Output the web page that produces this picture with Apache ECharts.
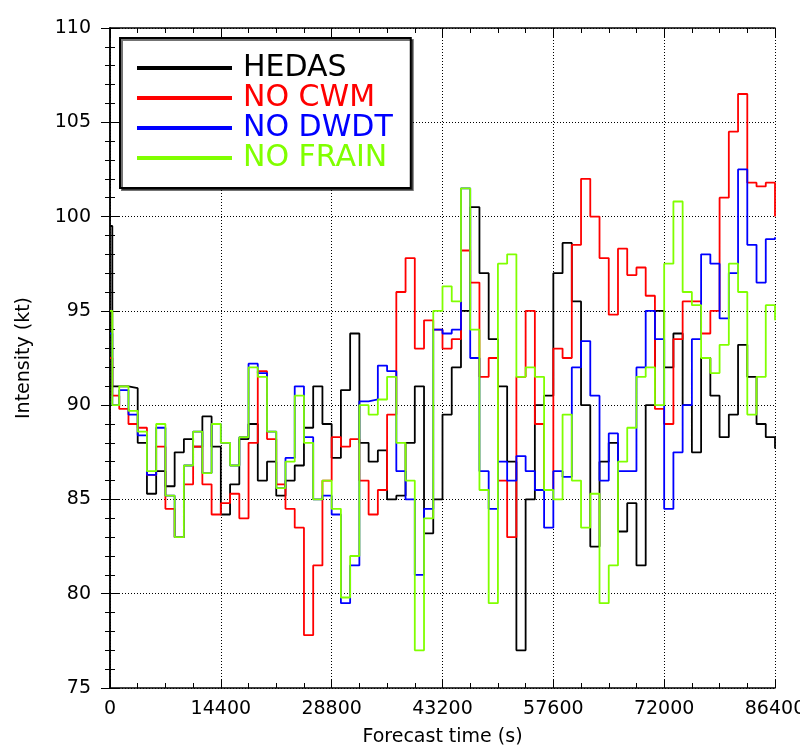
<!DOCTYPE html>
<html>
<head>
<meta charset="utf-8">
<script src="https://cdn.jsdelivr.net/npm/echarts/dist/echarts.min.js"></script>
<style>
  html, body { margin: 0; padding: 0; background: #fff; }
  #main { width: 800px; height: 753px; }
</style>
</head>
<body>
<div id="main"></div>
<script>
// forecast time (s) of every sample, shared by all runs
let times = [0, 300, 1200, 2400, 3600, 4800, 6000, 7200, 8400, 9600, 10800, 12000, 13200, 14400,
    15600, 16800, 18000, 19200, 20400, 21600, 22800, 24000, 25200, 26400, 27600, 28800,
    30000, 31200, 32400, 33600, 34800, 36000, 37200, 38400, 39600, 40800, 42000, 43200,
    44400, 45600, 46800, 48000, 49200, 50400, 51600, 52800, 54000, 55200, 56400, 57600,
    58800, 60000, 61200, 62400, 63600, 64800, 66000, 67200, 68400, 69600, 70800, 72000,
    73200, 74400, 75600, 76800, 78000, 79200, 80400, 81600, 82800, 84000, 85200, 86400];

// intensity (kt) of each run
let hedas = [99.5, 91.0, 91.0, 90.9, 88.0, 85.3, 86.5, 85.7, 87.5, 88.2, 87.8, 89.4, 87.8, 84.2,
    85.8, 88.2, 89.0, 86.0, 87.0, 85.2, 86.0, 86.8, 88.8, 91.0, 89.0, 87.2,
    90.8, 93.8, 88.0, 87.0, 87.6, 85.0, 85.2, 88.0, 91.0, 83.2, 85.0, 89.5,
    92.0, 95.0, 100.5, 97.0, 93.5, 91.0, 87.0, 77.0, 85.0, 90.0, 90.5, 97.0,
    98.6, 95.5, 90.0, 82.5, 87.0, 88.0, 83.3, 84.8, 81.5, 90.0, 95.0, 92.0,
    93.8, 90.0, 87.5, 92.5, 90.5, 88.3, 89.5, 93.2, 91.5, 89.0, 88.3, 87.7];
let noCwm = [92.5, 90.5, 89.8, 89.0, 88.8, 86.3, 87.8, 84.5, 83.0, 85.8, 87.8, 85.8, 84.2, 84.8,
    85.3, 84.0, 88.0, 91.8, 88.2, 85.8, 84.5, 83.5, 77.8, 81.5, 86.0, 88.3,
    87.8, 88.2, 86.0, 84.2, 85.5, 89.5, 96.0, 97.8, 93.0, 94.5, 94.0, 93.0,
    93.5, 98.2, 96.5, 91.5, 92.5, 86.0, 83.0, 91.5, 95.0, 89.0, 85.5, 93.0,
    92.5, 98.5, 102.0, 100.0, 97.8, 94.8, 98.3, 96.9, 97.3, 95.8, 89.8, 89.0,
    93.5, 95.5, 95.5, 93.8, 95.0, 101.0, 104.5, 106.5, 101.8, 101.6, 101.8, 100.0];
let noDwdt = [93.8, 90.0, 90.8, 89.5, 88.4, 86.3, 88.8, 85.2, 83.0, 86.8, 88.6, 86.4, 89.0, 88.0,
    86.8, 88.3, 92.2, 91.7, 88.6, 85.6, 87.2, 91.0, 88.3, 85.0, 85.2, 84.2,
    79.5, 81.5, 90.2, 90.3, 92.1, 91.8, 86.5, 85.0, 81.0, 84.5, 94.0, 93.8,
    94.0, 101.5, 92.5, 86.5, 84.5, 87.0, 86.0, 87.3, 86.5, 85.5, 83.5, 86.5,
    86.2, 92.0, 93.4, 90.5, 86.0, 88.5, 86.5, 86.5, 92.0, 95.0, 93.5, 84.5,
    87.5, 90.0, 93.5, 98.0, 97.5, 94.6, 97.0, 102.5, 98.5, 96.5, 98.8, 98.9];
let noFrain = [95.0, 90.0, 91.0, 89.7, 88.6, 86.5, 89.0, 85.2, 83.0, 86.8, 88.6, 86.4, 89.0, 88.0,
    86.8, 88.3, 92.0, 91.5, 88.6, 85.6, 87.0, 90.5, 88.0, 85.0, 86.0, 84.5,
    79.8, 82.0, 90.0, 89.5, 90.3, 91.5, 88.0, 86.0, 77.0, 84.0, 95.0, 96.3,
    95.5, 101.5, 94.0, 85.5, 79.5, 97.5, 98.0, 91.5, 92.0, 91.5, 85.5, 85.0,
    89.5, 86.0, 83.5, 85.3, 79.5, 81.5, 87.0, 88.8, 91.5, 92.0, 90.0, 97.5,
    100.8, 96.0, 95.3, 92.5, 91.7, 93.2, 97.5, 96.0, 89.5, 91.5, 95.3, 94.5];

let runNames = ['HEDAS', 'NO CWM', 'NO DWDT', 'NO FRAIN'];
let runColors = ['#000000', '#ff0000', '#0000ff', '#80ff00'];
let runValues = [hedas, noCwm, noDwdt, noFrain];

const FONT = 'DejaVu Sans';

var myChart = echarts.init(document.getElementById('main'));

function pairs(values) {
    return times.map((t, i) => [t, values[i]]);
}

let frameAxis = {
    axisLine: { show: true, lineStyle: { color: '#000', width: 1.5 } },
    axisTick: { show: true, inside: true, length: 9, lineStyle: { color: '#000', width: 1 } },
    minorTick: { show: true, length: 5, lineStyle: { color: '#000', width: 1 } }
};

var option = {
    animation: false,
    backgroundColor: '#fff',
    grid: { left: 110, right: 25, top: 28, bottom: 65, containLabel: false, outerBoundsMode: 'none' },
    legend: {
        orient: 'vertical',
        left: 120,
        top: 38,
        padding: [15, 18, 15, 17],
        itemGap: 0,
        itemWidth: 95,
        itemHeight: 4,
        icon: 'rect',
        backgroundColor: '#fff',
        borderColor: '#000',
        borderWidth: 2,
        shadowColor: 'rgba(0,0,0,0.55)',
        shadowOffsetX: 2,
        shadowOffsetY: 2,
        textStyle: { fontFamily: FONT, fontSize: 30, lineHeight: 29, padding: [0, 0, 0, 6] },
        data: runNames.map((n, i) => ({ name: n, textStyle: { color: runColors[i] } }))
    },
    xAxis: [
        Object.assign({}, frameAxis, {
            type: 'value', min: 0, max: 86400, interval: 14400, position: 'bottom',
            minorTick: Object.assign({}, frameAxis.minorTick, { splitNumber: 4 }),
            splitLine: { show: true, lineStyle: { color: '#000', width: 1, type: [1, 2] } },
            axisLabel: { fontFamily: FONT, fontSize: 19, color: '#000', margin: 12, formatter: v => String(v) },
            name: 'Forecast time (s)',
            nameLocation: 'middle',
            nameGap: 40,
            nameTextStyle: { fontFamily: FONT, fontSize: 19, color: '#000' }
        }),
        Object.assign({}, frameAxis, {
            type: 'value', min: 0, max: 86400, interval: 14400, position: 'top',
            minorTick: Object.assign({}, frameAxis.minorTick, { splitNumber: 4 }),
            splitLine: { show: false },
            axisLabel: { show: false }
        })
    ],
    yAxis: [
        Object.assign({}, frameAxis, {
            type: 'value', min: 75, max: 110, interval: 5, position: 'left',
            minorTick: Object.assign({}, frameAxis.minorTick, { splitNumber: 5 }),
            splitLine: { show: true, lineStyle: { color: '#000', width: 1, type: [1, 2] } },
            axisLabel: { fontFamily: FONT, fontSize: 19, color: '#000', margin: 19 },
            name: 'Intensity (kt)',
            nameLocation: 'middle',
            nameGap: 76,
            nameTextStyle: { fontFamily: FONT, fontSize: 19, color: '#000' }
        }),
        Object.assign({}, frameAxis, {
            type: 'value', min: 75, max: 110, interval: 5, position: 'right',
            minorTick: Object.assign({}, frameAxis.minorTick, { splitNumber: 5 }),
            splitLine: { show: false },
            axisLabel: { show: false }
        })
    ],
    series: runNames.map((n, i) => ({
        name: n,
        type: 'line',
        step: 'end',
        showSymbol: false,
        symbol: 'none',
        color: runColors[i],
        lineStyle: { color: runColors[i], width: 1.8 },
        data: pairs(runValues[i])
    }))
};

myChart.setOption(option);
</script>
</body>
</html>
